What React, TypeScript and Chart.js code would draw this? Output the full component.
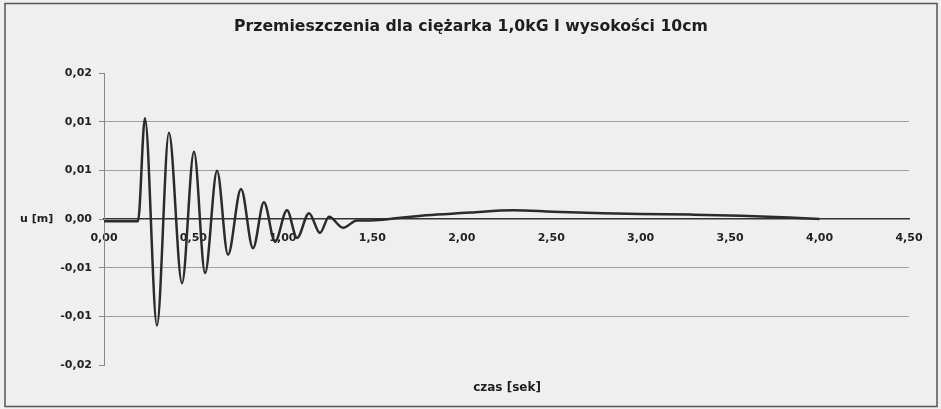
import React, { useEffect, useRef } from "react";
import { Chart, registerables } from "chart.js";

Chart.register(...registerables);

const TITLE = "Przemieszczenia dla ciężarka 1,0kG I wysokości 10cm";
const X_TITLE = "czas [sek]";
const Y_TITLE = "u [m]";

// time [s]
const timeSec = [
  0, 0.1, 0.19, 0.229, 0.296, 0.363, 0.436, 0.503, 0.565, 0.632, 0.693, 0.766,
  0.833, 0.894, 0.956, 1.023, 1.079, 1.146, 1.207, 1.258, 1.336, 1.414, 1.49,
  1.67, 1.86, 2.05, 2.29, 2.51, 2.79, 3.0, 3.28, 3.56, 3.83, 4.0,
];
// displacement u [m]
const displacementM = [
  -0.0003, -0.0003, -0.0003, 0.0138, -0.0146, 0.0118, -0.0088, 0.0092, -0.0074,
  0.0066, -0.0049, 0.0041, -0.004, 0.0023, -0.0031, 0.0012, -0.0026, 0.0008,
  -0.0019, 0.0003, -0.0012, -0.0002, -0.0002, 0.0002, 0.0006, 0.0009, 0.0012,
  0.001, 0.0008, 0.0007, 0.0006, 0.00045, 0.0002, 0.0,
];

const xTickValues = [0, 0.5, 1, 1.5, 2, 2.5, 3, 3.5, 4, 4.5];
const xTickLabels = ["0,00", "0,50", "1,00", "1,50", "2,00", "2,50", "3,00", "3,50", "4,00", "4,50"];
const yTickValues = [-0.02, -0.013333, -0.006667, 0, 0.006667, 0.013333, 0.02];
const yTickLabels = ["-0,02", "-0,01", "-0,01", "0,00", "0,01", "0,01", "0,02"];

const FONT = "'DejaVu Sans', sans-serif";

export default function App() {
  const canvasRef = useRef<HTMLCanvasElement | null>(null);

  useEffect(() => {
    const canvas = canvasRef.current;
    if (!canvas) return;

    const decor = {
      id: "decor",
      beforeDraw(chart: any) {
        const ctx = chart.ctx;
        ctx.save();
        ctx.fillStyle = "#efefef";
        ctx.fillRect(0, 0, chart.width, chart.height);
        ctx.strokeStyle = "#555";
        ctx.lineWidth = 1.5;
        ctx.strokeRect(5, 3.5, 932, 403);
        ctx.restore();
      },
      afterDraw(chart: any) {
        const ctx = chart.ctx;
        const yScale = chart.scales.y;
        ctx.save();
        ctx.fillStyle = "#1e1e1e";
        ctx.textBaseline = "middle";
        ctx.textAlign = "center";
        ctx.font = `bold 15.7px ${FONT}`;
        ctx.fillText(TITLE, 471, 27);
        ctx.font = `bold 12px ${FONT}`;
        ctx.fillText(X_TITLE, 507, 388);
        ctx.textAlign = "left";
        ctx.font = `bold 11px ${FONT}`;
        ctx.fillText(Y_TITLE, 20, yScale.getPixelForValue(0));
        ctx.restore();
      },
    };

    const chart = new Chart(canvas, {
      type: "line",
      data: {
        datasets: [
          {
            data: timeSec.map((t, i) => ({ x: t, y: displacementM[i] })),
            borderColor: "#2b2b2b",
            borderWidth: 2.5,
            pointRadius: 0,
            cubicInterpolationMode: "monotone",
            fill: false,
          },
        ],
      },
      options: {
        animation: false,
        responsive: false,
        devicePixelRatio: 1,
        layout: { padding: { top: 73, right: 32, bottom: 44, left: 0 } },
        plugins: {
          legend: { display: false },
          title: { display: false },
          tooltip: { enabled: false },
        },
        scales: {
          x: {
            type: "linear",
            min: 0,
            max: 4.5,
            position: { y: 0 } as any,
            afterBuildTicks: (s: any) => {
              s.ticks = xTickValues.map((v) => ({ value: v }));
            },
            afterFit: (s: any) => {
              s.height = 0;
              s.paddingLeft = 0;
              s.paddingRight = 0;
              s.paddingTop = 0;
              s.paddingBottom = 0;
            },
            ticks: {
              autoSkip: false,
              maxRotation: 0,
              padding: 13,
              color: "#222",
              font: { family: FONT, size: 11, weight: "bold" },
              callback: (_v: any, i: number) => xTickLabels[i],
            },
            grid: { display: true, color: "rgba(0,0,0,0)", drawTicks: false },
            border: { display: true, color: "#333", width: 1.5 },
          },
          y: {
            type: "linear",
            min: -0.02,
            max: 0.02,
            afterBuildTicks: (s: any) => {
              s.ticks = yTickValues.map((v) => ({ value: v }));
            },
            afterFit: (s: any) => {
              s.width = 104;
              s.paddingTop = 0;
              s.paddingBottom = 0;
            },
            ticks: {
              padding: 7,
              color: "#222",
              font: { family: FONT, size: 11, weight: "bold" },
              callback: (_v: any, i: number) => yTickLabels[i],
            },
            grid: {
              color: (c: any) => {
                const v = c.tick ? c.tick.value : 0;
                if (Math.abs(v) < 1e-9 || Math.abs(Math.abs(v) - 0.02) < 1e-9) return "rgba(0,0,0,0)";
                return "#a0a0a0";
              },
              tickColor: "#888",
              tickLength: 5,
              lineWidth: 1,
            },
            border: { display: true, color: "#888", width: 1 },
          },
        },
      },
      plugins: [decor],
    } as any);

    return () => chart.destroy();
  }, []);

  return (
    <div style={{ position: "absolute", left: 0, top: 0, width: 941, height: 409 }}>
      <canvas ref={canvasRef} width={941} height={409} />
    </div>
  );
}
